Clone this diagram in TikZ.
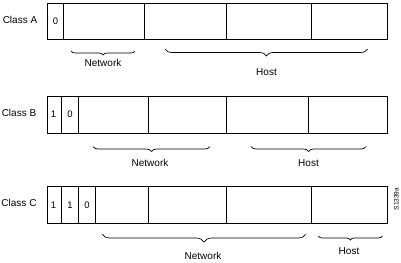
\documentclass[tikz,border=0pt]{standalone}
\usepackage{fontspec}
\setmainfont{Liberation Sans}
\usetikzlibrary{decorations.pathreplacing}
\begin{document}
\begin{tikzpicture}[x=1pt,y=-1pt,
  cell/.style={draw,line width=0.8pt},
  lbl/.style={font=\fontsize{10}{12}\selectfont,inner sep=0pt},
  bit/.style={font=\fontsize{9.5}{11}\selectfont,inner sep=0pt},
  brc/.style={decorate,decoration={brace,mirror,amplitude=#1},line width=0.7pt},
  brc/.default=5pt]
\useasboundingbox (0,0) rectangle (401,262);
% Class A
\node[lbl] (la) at (20,20) {Class A};
\draw[cell] (47,3) rectangle (387.5,39.5);
\foreach \x in {63,144.5,226.3,311.7} \draw[cell] (\x,3) -- (\x,39.5);
\node[bit] (a0) at (55.5,21) {0};
\coordinate (anl) at (71,51); \coordinate (anr) at (135,51);
\draw[brc=4pt] (anl) -- (anr);
\node[lbl] (an) at (103,63) {Network};
\coordinate (ahl) at (165,49); \coordinate (ahr) at (367.7,49);
\draw[brc=7pt] (ahl) -- (ahr);
\node[lbl] (ah) at (266.5,72) {Host};
% Class B
\node[lbl] (lb) at (19,113) {Class B};
\draw[cell] (47,96) rectangle (387.5,133.3);
\foreach \x in {61.7,78.3,148.3,226.3,308.7} \draw[cell] (\x,96) -- (\x,133.3);
\node[bit] (b1) at (53.5,114) {1};
\node[bit] (b0) at (70,114) {0};
\coordinate (bnl) at (93,146.5); \coordinate (bnr) at (210,146.5);
\draw[brc=5pt] (bnl) -- (bnr);
\node[lbl] (bn) at (150,163) {Network};
\coordinate (bhl) at (251,146.5); \coordinate (bhr) at (366,146.5);
\draw[brc=5pt] (bhl) -- (bhr);
\node[lbl] (bh) at (308.5,163) {Host};
% Class C
\node[lbl] (lc) at (19,203) {Class C};
\draw[cell] (47.3,186.7) rectangle (387.5,223.3);
\foreach \x in {61.7,78.3,95.3,148.3,226.3,311.7} \draw[cell] (\x,186.7) -- (\x,223.3);
\node[bit] (c1) at (53.5,205) {1};
\node[bit] (c2) at (70,205) {1};
\node[bit] (c0) at (87,205) {0};
\coordinate (cnl) at (102,234); \coordinate (cnr) at (306,234);
\draw[brc=8pt] (cnl) -- (cnr);
\node[lbl] (cn) at (203,256) {Network};
\coordinate (chl) at (318.3,236); \coordinate (chr) at (382.3,236);
\draw[brc=4pt] (chl) -- (chr);
\node[lbl] (ch) at (349,251) {Host};
\node[font=\fontsize{6.5}{8}\selectfont,inner sep=0pt,rotate=90] (fig) at (396.5,199) {S1339a};
\end{tikzpicture}
\end{document}
